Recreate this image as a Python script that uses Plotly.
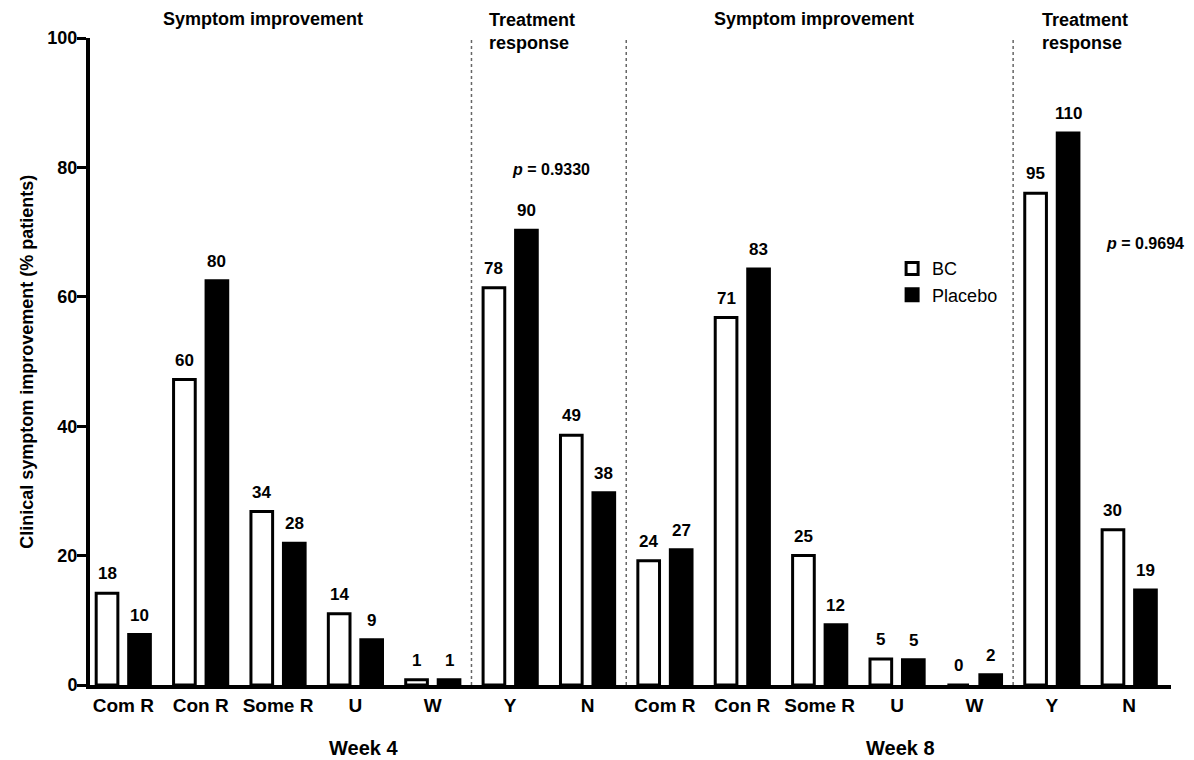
import plotly.graph_objects as go

# Categories along the x axis (two study weeks, each with symptom and response groups)
categories = ["Com R", "Con R", "Some R", "U", "W", "Y", "N",
              "Com R", "Con R", "Some R", "U", "W", "Y", "N"]

# Patient counts shown above each bar
bc_counts = [18, 60, 34, 14, 1, 78, 49, 24, 71, 25, 5, 0, 95, 30]
placebo_counts = [10, 80, 28, 9, 1, 90, 38, 27, 83, 12, 5, 2, 110, 19]

# Percentage of patients (bar heights)
bc_pct = [14.2, 47.2, 26.8, 11.0, 0.8, 61.4, 38.6, 19.2, 56.8, 20.0, 4.0, 0.0, 76.0, 24.0]
placebo_pct = [7.8, 62.5, 21.9, 7.0, 0.8, 70.3, 29.7, 20.9, 64.3, 9.3, 3.9, 1.6, 85.3, 14.7]

y_ticks = [0, 20, 40, 60, 80, 100]

FONT = "Arial, Liberation Sans, sans-serif"
xpos = list(range(len(categories)))
BAR_W = 0.28
OFF = 0.21

fig = go.Figure()
fig.add_trace(go.Bar(
    x=xpos, y=bc_pct, name="BC", width=BAR_W, offset=-OFF - BAR_W / 2,
    marker=dict(color="white", line=dict(color="black", width=3)),
))
fig.add_trace(go.Bar(
    x=xpos, y=placebo_pct, name="Placebo", width=BAR_W, offset=OFF - BAR_W / 2,
    marker=dict(color="black", line=dict(color="black", width=3)),
))

val_font = dict(family=FONT, size=17, color="black", weight="bold")
annotations = []
for i, (v, c) in enumerate(zip(bc_pct, bc_counts)):
    annotations.append(dict(x=i - OFF, y=v, text=str(c), showarrow=False,
                            yanchor="bottom", yshift=8, font=val_font))
for i, (v, c) in enumerate(zip(placebo_pct, placebo_counts)):
    annotations.append(dict(x=i + OFF, y=v, text=str(c), showarrow=False,
                            yanchor="bottom", yshift=8, font=val_font))

# Section headers above the plot
hdr_font = dict(family=FONT, size=18, color="black", weight="bold")
annotations += [
    dict(x=1.8, y=1.0, xref="x", yref="paper", yshift=19, text="Symptom improvement",
         showarrow=False, yanchor="middle", font=hdr_font),
    dict(x=8.93, y=1.0, xref="x", yref="paper", yshift=19, text="Symptom improvement",
         showarrow=False, yanchor="middle", font=hdr_font),
    dict(x=4.70, y=1.0, xref="x", yref="paper", yshift=7, text="Treatment<br>response",
         showarrow=False, xanchor="left", yanchor="middle", align="left", font=hdr_font),
    dict(x=11.85, y=1.0, xref="x", yref="paper", yshift=7, text="Treatment<br>response",
         showarrow=False, xanchor="left", yanchor="middle", align="left", font=hdr_font),
    dict(x=5.53, y=79.6, text="<i>p</i> = 0.9330", showarrow=False,
         font=dict(family=FONT, size=16, color="black", weight="bold")),
    dict(x=13.2, y=68.3, text="<i>p</i> = 0.9694", showarrow=False,
         font=dict(family=FONT, size=16, color="black", weight="bold")),
    dict(x=3.1, y=0, yref="paper", yshift=-63, yanchor="middle", text="Week 4", showarrow=False,
         font=dict(family=FONT, size=20, color="black", weight="bold")),
    dict(x=10.05, y=0, yref="paper", yshift=-63, yanchor="middle", text="Week 8", showarrow=False,
         font=dict(family=FONT, size=20, color="black", weight="bold")),
    dict(x=-0.059, y=0.5, xref="paper", yref="paper", xanchor="center", yanchor="middle",
         text="Clinical symptom improvement (% patients)",
         textangle=-90, showarrow=False,
         font=dict(family=FONT, size=18, color="black", weight="bold")),
]

# Dotted separators between the symptom and response groups
shapes = []
for xs in [4.5, 6.5, 11.5]:
    shapes.append(dict(type="line", x0=xs, x1=xs, y0=0, y1=100, xref="x", yref="y",
                       line=dict(color="#666666", width=1.5, dash="dot")))

fig.update_layout(
    width=1194, height=760,
    margin=dict(l=90, r=23, t=38, b=75),
    plot_bgcolor="white", paper_bgcolor="white",
    barmode="overlay",
    showlegend=True,
    legend=dict(x=0.742, y=0.672, xanchor="left", yanchor="top",
                font=dict(family=FONT, size=18, color="black"),
                bgcolor="rgba(0,0,0,0)", tracegroupgap=0),
    annotations=annotations,
    shapes=shapes,
    font=dict(family=FONT, color="black"),
)
fig.update_xaxes(
    range=[-0.43, 13.54], tickvals=xpos, ticktext=categories,
    showline=True, linecolor="black", linewidth=4, ticks="",
    showgrid=False, zeroline=False,
    tickfont=dict(family=FONT, size=19, color="black", weight="bold"),
)
fig.update_yaxes(
    range=[0, 100], tickvals=y_ticks, showline=True, linecolor="black", linewidth=4,
    ticks="outside", ticklen=9, tickwidth=3, tickcolor="black",
    ticklabelstandoff=-4,
    showgrid=False, zeroline=False,
    tickfont=dict(family=FONT, size=18, color="black", weight="bold"),
)

fig.write_html("out.html")
